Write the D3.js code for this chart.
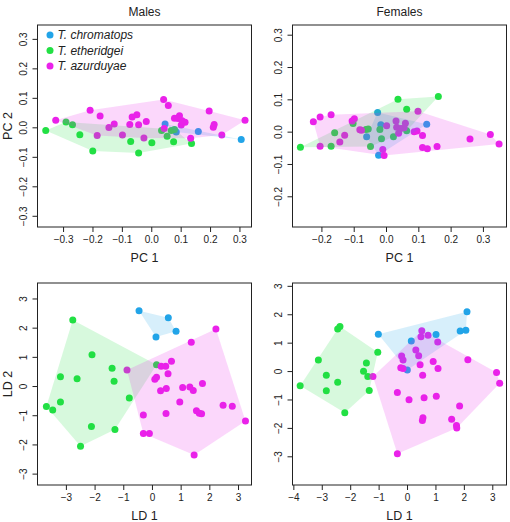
<!DOCTYPE html>
<html><head><meta charset="utf-8">
<script src="https://cdn.jsdelivr.net/npm/d3@7"></script>
<style>body{margin:0;background:#fff;} text{font-family:"Liberation Sans",Arial,Helvetica,sans-serif;fill:#222;}</style>
</head><body>
<svg id="c" width="510" height="522"></svg>
<script>
const speciesNames = ["T. chromatops", "T. etheridgei", "T. azurduyae"];
const speciesColors = ["#22A4E8", "#22E044", "#EA22EA"];

// Males PCA
const malesPC_chromatops = [[0.047,0.011],[0.085,-0.016],[0.160,-0.014],[0.306,-0.041]];
const malesPC_etheridgei = [[-0.359,-0.011],[-0.290,0.018],[-0.268,0.009],[-0.243,-0.025],[-0.199,-0.080],[-0.070,-0.048],[-0.043,-0.087],[0.002,-0.052],[0.035,-0.011],[0.054,-0.030],[0.068,-0.011],[0.079,-0.007],[0.076,-0.049],[0.137,-0.055]];
const malesPC_azurduyae = [[-0.325,0.024],[-0.208,0.058],[-0.174,0.038],[-0.184,-0.028],[-0.144,-0.001],[-0.126,0.011],[-0.098,-0.026],[-0.073,0.010],[-0.065,0.035],[-0.049,0.043],[-0.043,0.009],[-0.025,-0.036],[-0.017,0.020],[0.042,0.094],[0.058,0.074],[0.044,-0.004],[0.079,0.031],[0.091,0.030],[0.096,0.039],[0.102,0.008],[0.105,0.022],[0.115,0.017],[0.134,-0.037],[0.197,0.055],[0.214,0.010],[0.211,0.000],[0.240,-0.026],[0.319,0.024]];

// Females PCA
const femalesPC_chromatops = [[-0.026,0.059],[-0.016,0.021],[-0.060,-0.016],[-0.023,-0.073],[0.126,0.023]];
const femalesPC_etheridgei = [[-0.265,-0.048],[-0.170,-0.045],[-0.159,-0.003],[-0.102,0.025],[-0.062,0.007],[-0.055,0.008],[-0.048,-0.046],[-0.019,0.007],[-0.014,-0.022],[0.023,-0.016],[0.037,0.100],[0.064,0.069],[0.064,0.003],[0.162,0.109]];
const femalesPC_azurduyae = [[-0.225,0.031],[-0.204,0.045],[-0.170,0.052],[-0.204,-0.045],[-0.128,-0.011],[-0.143,-0.032],[-0.105,0.033],[-0.098,0.040],[-0.081,0.006],[-0.076,0.004],[-0.010,-0.055],[-0.006,-0.074],[0.002,0.018],[0.031,0.033],[0.033,0.014],[0.039,-0.005],[0.046,0.010],[0.056,0.012],[0.060,0.026],[0.087,0.000],[0.096,0.002],[0.099,0.063],[0.113,-0.012],[0.113,-0.049],[0.128,-0.053],[0.158,-0.046],[0.260,-0.023],[0.323,-0.009],[0.350,-0.038]];

// Males LDA
const malesLD_chromatops = [[-0.45,2.58],[0.57,2.34],[0.84,1.88],[0.14,1.68]];
const malesLD_etheridgei = [[-2.76,2.26],[-2.09,1.07],[-1.39,0.61],[-1.32,0.16],[-3.19,0.32],[-2.61,0.25],[-3.19,-0.55],[-3.68,-0.70],[-3.46,-0.82],[-2.11,-1.39],[-1.29,-1.49],[-2.49,-2.06],[-0.79,-0.41],[0.16,0.73]];
const malesLD_azurduyae = [[-0.87,0.55],[1.37,1.50],[2.23,1.95],[0.68,0.85],[0.32,0.68],[0.48,0.68],[0.56,0.42],[0.10,0.23],[0.16,0.30],[0.30,-0.16],[0.50,-0.08],[1.07,-0.05],[1.32,-0.03],[1.44,-0.15],[1.76,0.09],[0.97,-0.55],[0.49,-0.94],[-0.30,-0.99],[1.55,-0.85],[1.65,-0.93],[1.73,-0.95],[2.48,-0.66],[2.80,-0.69],[3.26,-1.20],[-0.30,-1.63],[-0.09,-1.63],[1.47,-2.36]];

// Females LDA
const femalesLD_chromatops = [[-1.01,1.30],[0.15,1.06],[1.02,1.29],[1.87,1.41],[2.07,1.44],[2.11,2.09],[0.01,0.04]];
const femalesLD_etheridgei = [[-3.76,-0.52],[-3.12,0.39],[-2.84,-0.15],[-2.84,-0.69],[-2.44,1.48],[-2.36,1.57],[-2.44,-0.39],[-2.19,-1.47],[-1.53,-0.01],[-1.43,0.28],[-1.38,-0.19],[-1.33,-0.68],[-1.03,0.66]];
const femalesLD_azurduyae = [[-1.20,-0.19],[0.52,1.42],[0.49,1.21],[0.74,1.26],[1.08,1.02],[0.31,0.74],[0.41,0.54],[-0.19,0.53],[-0.14,0.39],[-0.22,0.12],[-0.14,0.09],[0.46,0.22],[0.92,0.34],[0.55,-0.15],[1.09,0.09],[2.14,0.40],[3.15,-0.05],[3.26,-0.43],[-0.34,-0.75],[0.07,-1.01],[0.60,-0.94],[1.03,-0.89],[1.85,-1.23],[0.56,-1.64],[0.54,-1.74],[1.57,-1.70],[1.74,-1.92],[1.75,-2.00],[-0.34,-2.91]];

const pcTicks1 = [-0.3,-0.2,-0.1,0.0,0.1,0.2,0.3];
const pcTicks2x = [-0.2,-0.1,0.0,0.1,0.2,0.3];
const pcTicks2y = [-0.2,-0.1,0.0,0.1,0.2,0.3];
const ldTicks3 = [-3,-2,-1,0,1,2,3];
const ldTicks4x = [-4,-3,-2,-1,0,1,2,3];
const ldTicks4y = [-3,-2,-1,0,1,2,3];

const svg = d3.select("#c");

const panels = [
  {title:"Males", xlab:"PC 1", ylab:"PC 2", box:[37.5,251.5,25,227], xd:[-0.387,0.341], yd:[-0.338,0.347],
   xt:pcTicks1, yt:pcTicks1, fmt:d3.format(".1f"), data:[malesPC_chromatops, malesPC_etheridgei, malesPC_azurduyae], legend:true},
  {title:"Females", xlab:"PC 1", ylab:null, box:[292.5,506.5,25,227], xd:[-0.2895,0.373], yd:[-0.295,0.330],
   xt:pcTicks2x, yt:pcTicks2y, fmt:d3.format(".1f"), data:[femalesPC_chromatops, femalesPC_etheridgei, femalesPC_azurduyae]},
  {title:null, xlab:"LD 1", ylab:"LD 2", box:[37.5,251.5,283,485], xd:[-3.99,3.47], yd:[-3.39,3.53],
   xt:ldTicks3, yt:ldTicks3, fmt:d3.format("d"), data:[malesLD_chromatops, malesLD_etheridgei, malesLD_azurduyae]},
  {title:null, xlab:"LD 1", ylab:null, box:[292.5,506.5,283,485], xd:[-4.03,3.50], yd:[-4.01,3.10],
   xt:ldTicks4x, yt:ldTicks4y, fmt:d3.format("d"), data:[femalesLD_chromatops, femalesLD_etheridgei, femalesLD_azurduyae]}
];

const minus = s => s.replace("-", "\u2212");

panels.forEach((p, pi) => {
  const [l, r, t, b] = p.box;
  const x = d3.scaleLinear().domain(p.xd).range([l, r]);
  const y = d3.scaleLinear().domain(p.yd).range([b, t]);
  const clipId = "clip" + pi;
  svg.append("clipPath").attr("id", clipId).append("rect").attr("x", l).attr("y", t).attr("width", r - l).attr("height", b - t);
  const g = svg.append("g").attr("clip-path", `url(#${clipId})`);

  p.data.forEach((pts, si) => {
    g.selectAll(null).data(pts).enter().append("circle")
      .attr("cx", d => x(d[0])).attr("cy", d => y(d[1])).attr("r", 3.5)
      .attr("fill", speciesColors[si]);
  });
  p.data.forEach((pts, si) => {
    const hull = d3.polygonHull(pts.map(d => [x(d[0]), y(d[1])]));
    if (hull) g.append("path").attr("d", "M" + hull.join("L") + "Z")
      .attr("fill", speciesColors[si]).attr("fill-opacity", 0.18).attr("stroke", "none");
  });

  const xa = d3.axisBottom(x).tickValues(p.xt).tickSize(5).tickPadding(4).tickFormat(d => minus(p.fmt(d)));
  const ya = d3.axisLeft(y).tickValues(p.yt).tickSize(5).tickPadding(4).tickFormat(d => minus(p.fmt(d)));
  const gx = svg.append("g").attr("transform", `translate(0,${b})`).call(xa);
  const gy = svg.append("g").attr("transform", `translate(${l},0)`).call(ya);
  [gx, gy].forEach(ga => {
    ga.select(".domain").remove();
    ga.selectAll("line").attr("stroke", "#222");
    ga.selectAll("text").style("font-size", "10px").style("font-family", '"Liberation Sans",Arial,sans-serif').attr("fill", "#222");
  });
  gy.selectAll(".tick text").attr("text-anchor", "middle").attr("x", 0).attr("dy", null)
    .attr("transform", "translate(-14.5,0) rotate(-90)").attr("dominant-baseline", "central");
  gx.selectAll(".tick text").attr("y", 9);

  svg.append("rect").attr("x", l).attr("y", t).attr("width", r - l).attr("height", b - t)
    .attr("fill", "none").attr("stroke", "#222").attr("stroke-width", 1);

  const cx = (l + r) / 2;
  if (p.title) svg.append("text").attr("x", cx).attr("y", t - 13).attr("text-anchor", "middle")
    .attr("dominant-baseline", "central").style("font-size", "12px").text(p.title);
  svg.append("text").attr("x", cx).attr("y", b + 31).attr("text-anchor", "middle")
    .attr("dominant-baseline", "central").style("font-size", "12.5px").text(p.xlab);
  if (p.ylab) svg.append("text").attr("transform", `translate(${l - 30},${(t + b) / 2}) rotate(-90)`)
    .attr("text-anchor", "middle").attr("dominant-baseline", "central").style("font-size", "12.5px").text(p.ylab);

  if (p.legend) {
    const lg = svg.append("g");
    speciesNames.forEach((n, i) => {
      const yy = t + 10 + i * 15.5;
      lg.append("circle").attr("cx", l + 12.5).attr("cy", yy).attr("r", 3.5).attr("fill", speciesColors[i]);
      lg.append("text").attr("x", l + 20).attr("y", yy).attr("dominant-baseline", "central")
        .style("font-size", "12px").style("font-style", "italic").text(n);
    });
  }
});
</script>
</body></html>
